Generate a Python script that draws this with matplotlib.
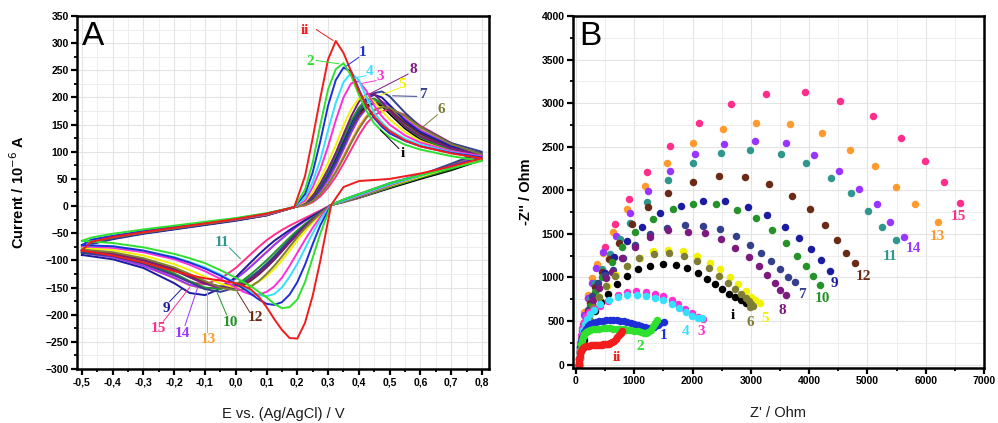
import matplotlib
matplotlib.use("Agg")
import matplotlib.pyplot as plt
from matplotlib.ticker import MultipleLocator

# ---------------- Panel A data (cyclic voltammograms) ----------------
E_fwd = [-0.5, -0.47, -0.4, -0.3, -0.2, -0.1, 0.0, 0.1, 0.19, 0.225, 0.25, 0.275, 0.3,
         0.325, 0.35, 0.375, 0.4, 0.425, 0.45, 0.475, 0.5, 0.55, 0.6, 0.7, 0.8]
E_rev = [0.8, 0.7, 0.6, 0.5, 0.4, 0.35, 0.31, 0.275, 0.25, 0.225, 0.2, 0.175, 0.15, 0.125,
         0.1, 0.075, 0.05, 0.025, 0.0, -0.05, -0.1, -0.15, -0.2, -0.3, -0.4, -0.5]

cv_fwd_ii = [-82, -66, -57, -48, -40, -32, -24, -14, -2, 55, 125, 200, 270, 304, 282, 248, 212, 185, 165, 150, 138, 121, 110, 97, 88]
cv_fwd_2 = [-64, -58, -51, -43, -36, -29, -22, -13, -2, 30, 80, 150, 215, 252, 263, 240, 205, 175, 152, 138, 127, 113, 104, 92, 83]
cv_fwd_1 = [-72, -62, -55, -46, -38, -31, -23, -14, -2, 22, 62, 120, 185, 232, 255, 248, 215, 185, 162, 146, 134, 120, 110, 98, 90]
cv_fwd_4 = [-72, -62, -55, -46, -38, -31, -23, -14, -2, 15, 45, 85, 140, 190, 228, 245, 232, 200, 172, 154, 140, 124, 113, 99, 90]
cv_fwd_3 = [-74, -63, -56, -47, -39, -31, -24, -15, -2, 10, 35, 68, 110, 158, 200, 226, 230, 212, 185, 165, 150, 130, 117, 101, 92]
cv_fwd_5 = [-77, -64, -56, -47, -39, -32, -24, -15, -2, 8, 25, 50, 80, 112, 148, 178, 198, 203, 192, 175, 160, 136, 120, 100, 88]
cv_fwd_8 = [-82, -66, -58, -49, -41, -33, -25, -16, -2, 6, 20, 42, 68, 98, 132, 165, 192, 206, 206, 192, 175, 147, 128, 106, 93]
cv_fwd_9 = [-90, -70, -61, -51, -43, -35, -27, -17, -2, 5, 17, 37, 60, 88, 120, 152, 180, 198, 205, 200, 186, 157, 136, 110, 97]
cv_fwd_7 = [-86, -69, -60, -50, -42, -34, -26, -17, -2, 4, 15, 32, 54, 80, 110, 142, 172, 195, 208, 211, 202, 172, 146, 116, 100]
cv_fwd_10 = [-84, -67, -58, -49, -41, -33, -25, -16, -2, 5, 18, 40, 64, 94, 126, 157, 181, 195, 198, 189, 174, 146, 126, 102, 87]
cv_fwd_11 = [-82, -66, -58, -49, -41, -33, -25, -16, -2, 5, 16, 36, 60, 88, 120, 150, 175, 190, 195, 190, 177, 150, 130, 105, 90]
cv_fwd_12 = [-81, -66, -58, -49, -41, -33, -25, -16, -2, 4, 14, 32, 55, 82, 112, 142, 167, 183, 190, 188, 178, 153, 133, 107, 92]
cv_fwd_i = [-81, -66, -58, -49, -41, -33, -25, -16, -2, 4, 15, 34, 57, 85, 115, 145, 170, 185, 190, 184, 170, 143, 123, 100, 85]
cv_fwd_14 = [-86, -68, -59, -50, -42, -34, -26, -17, -2, 3, 12, 28, 48, 74, 104, 135, 162, 180, 190, 192, 185, 160, 139, 111, 95]
cv_fwd_13 = [-86, -68, -59, -50, -42, -34, -26, -17, -2, 2, 10, 24, 42, 65, 92, 120, 146, 166, 178, 183, 182, 163, 141, 111, 93]
cv_fwd_6 = [-80, -66, -58, -49, -41, -33, -25, -16, -2, 2, 9, 22, 40, 62, 88, 116, 142, 163, 176, 182, 181, 166, 145, 114, 95]
cv_fwd_15 = [-84, -67, -59, -50, -42, -34, -26, -17, -2, 1, 7, 18, 34, 54, 78, 104, 130, 152, 167, 175, 178, 168, 148, 116, 92]

cv_rev_ii = [88, 73, 60, 50, 46, 35, 2, -100, -165, -215, -244, -243, -228, -208, -186, -167, -154, -147, -142, -137, -133, -127, -120, -104, -91, -82]
cv_rev_2 = [83, 70, 57, 42, 22, 12, 2, -50, -95, -140, -172, -186, -188, -180, -168, -158, -148, -140, -132, -118, -105, -96, -88, -76, -68, -64]
cv_rev_1 = [90, 74, 58, 42, 22, 12, 2, -35, -70, -108, -140, -163, -177, -182, -180, -172, -162, -152, -143, -128, -115, -104, -95, -82, -74, -72]
cv_rev_4 = [90, 73, 56, 40, 20, 10, 2, -25, -50, -78, -106, -130, -150, -162, -166, -164, -158, -150, -142, -126, -113, -103, -94, -82, -74, -72]
cv_rev_3 = [92, 74, 56, 39, 19, 10, 2, -20, -40, -62, -86, -110, -132, -148, -158, -163, -163, -158, -150, -134, -120, -108, -98, -85, -77, -74]
cv_rev_5 = [88, 71, 54, 37, 18, 9, 2, -16, -30, -46, -63, -82, -100, -116, -129, -139, -146, -150, -150, -143, -130, -118, -107, -91, -81, -77]
cv_rev_6 = [95, 75, 56, 38, 18, 9, 2, -14, -27, -41, -57, -75, -93, -110, -125, -138, -148, -154, -155, -150, -138, -125, -113, -96, -85, -80]
cv_rev_8 = [93, 74, 55, 37, 17, 9, 2, -13, -25, -38, -52, -67, -83, -98, -112, -124, -134, -142, -147, -150, -143, -131, -118, -100, -88, -82]
cv_rev_7 = [100, 78, 57, 38, 17, 9, 2, -13, -24, -36, -49, -63, -78, -93, -107, -120, -132, -142, -150, -158, -153, -140, -127, -106, -92, -86]
cv_rev_i = [85, 66, 50, 33, 15, 8, 2, -13, -24, -37, -50, -65, -80, -95, -108, -120, -130, -138, -144, -148, -142, -130, -117, -99, -87, -81]
cv_rev_11 = [90, 70, 53, 35, 16, 8, 2, -12, -23, -35, -48, -62, -77, -92, -106, -119, -130, -139, -145, -148, -143, -131, -118, -100, -88, -82]
cv_rev_12 = [92, 72, 54, 36, 17, 9, 2, -13, -25, -38, -52, -67, -83, -99, -113, -126, -137, -146, -151, -150, -141, -128, -116, -98, -87, -81]
cv_rev_10 = [87, 68, 52, 35, 16, 8, 2, -12, -22, -33, -45, -58, -72, -86, -100, -113, -125, -136, -144, -153, -150, -138, -124, -104, -90, -84]
cv_rev_13 = [93, 73, 54, 36, 16, 8, 2, -10, -18, -27, -37, -48, -59, -71, -84, -97, -110, -122, -132, -147, -152, -146, -133, -110, -94, -86]
cv_rev_14 = [95, 75, 56, 37, 17, 8, 2, -10, -18, -27, -37, -48, -60, -72, -85, -98, -111, -123, -134, -148, -152, -145, -132, -110, -94, -86]
cv_rev_15 = [92, 72, 53, 35, 15, 7, 2, -8, -15, -22, -29, -36, -44, -53, -63, -75, -88, -101, -114, -134, -144, -140, -128, -108, -93, -84]
cv_rev_9 = [97, 76, 57, 38, 17, 8, 2, -10, -18, -26, -35, -44, -54, -64, -76, -89, -103, -117, -131, -152, -164, -160, -142, -114, -98, -90]

# ---------------- Panel B data (Nyquist plots) ----------------
zr_ii = [45, 50, 55, 62, 72, 85, 100, 120, 145, 170, 200, 230, 260, 290, 320, 350, 380, 410, 440, 470, 500, 530, 560, 590, 620, 650, 680, 710, 740, 770, 795]
zi_ii = [0, 30, 60, 95, 130, 160, 180, 195, 205, 212, 215, 218, 220, 222, 223, 224, 225, 226, 228, 230, 232, 235, 240, 248, 260, 275, 292, 312, 335, 360, 385]
zr_2 = [50, 55, 62, 72, 85, 100, 120, 145, 175, 210, 250, 300, 350, 400, 460, 520, 580, 640, 700, 760, 820, 880, 940, 1000, 1060, 1110, 1160, 1200, 1240, 1280, 1320, 1360, 1390]
zi_2 = [0, 50, 110, 170, 230, 280, 320, 350, 372, 388, 398, 405, 410, 413, 415, 415, 414, 412, 410, 408, 405, 400, 395, 388, 380, 372, 365, 362, 375, 400, 440, 480, 515]
zr_1 = [50, 55, 63, 75, 90, 110, 135, 165, 200, 240, 290, 340, 400, 460, 520, 580, 640, 700, 760, 820, 880, 940, 1000, 1060, 1120, 1180, 1240, 1290, 1340, 1400, 1450, 1510]
zi_1 = [0, 60, 130, 200, 265, 320, 370, 410, 440, 462, 480, 492, 500, 505, 508, 509, 509, 507, 503, 498, 490, 480, 468, 455, 440, 428, 418, 415, 430, 455, 475, 492]
zr_4 = [60, 65, 72, 82, 97, 118, 148, 188, 240, 310, 420, 560, 720, 880, 1040, 1200, 1350, 1500, 1640, 1760, 1880, 1990, 2090, 2160]
zi_4 = [0, 80, 160, 240, 320, 395, 465, 525, 575, 620, 690, 745, 780, 795, 795, 785, 765, 735, 690, 645, 598, 560, 538, 530]
zr_3 = [50, 55, 62, 72, 88, 110, 140, 180, 230, 310, 411, 554, 714, 869, 1029, 1200, 1354, 1497, 1640, 1754, 1869, 1983, 2097, 2183]
zi_3 = [0, 80, 165, 250, 335, 415, 490, 555, 605, 640, 670, 730, 796, 827, 842, 834, 815, 789, 739, 693, 636, 586, 547, 528]
zr_i = [55, 70, 95, 135, 185, 250, 330, 429, 554, 697, 869, 1069, 1269, 1486, 1714, 1909, 2097, 2240, 2394, 2514, 2623, 2737, 2840, 2926]
zi_i = [0, 80, 170, 280, 390, 500, 610, 720, 815, 923, 1015, 1091, 1133, 1152, 1141, 1110, 1053, 976, 919, 865, 815, 777, 739, 708]
zr_6 = [55, 75, 110, 160, 220, 300, 400, 520, 669, 869, 1086, 1343, 1594, 1851, 2080, 2286, 2457, 2611, 2737, 2840, 2926, 2970, 3011, 3030, 2990]
zi_6 = [0, 130, 260, 400, 530, 660, 780, 900, 1018, 1129, 1225, 1267, 1275, 1244, 1191, 1110, 1018, 930, 861, 808, 758, 725, 700, 675, 662]
zr_5 = [65, 95, 145, 210, 295, 400, 530, 690, 880, 1097, 1326, 1583, 1840, 2069, 2297, 2469, 2640, 2783, 2909, 3011, 3080, 3154]
zi_5 = [0, 190, 340, 490, 630, 770, 900, 1025, 1135, 1225, 1305, 1313, 1302, 1244, 1168, 1091, 1007, 919, 842, 777, 739, 708]
zr_8 = [55, 75, 105, 150, 210, 290, 400, 520, 611, 783, 1011, 1269, 1583, 1926, 2211, 2486, 2737, 2966, 3137, 3286, 3411, 3509, 3600]
zi_8 = [0, 140, 290, 440, 590, 740, 880, 990, 1064, 1217, 1344, 1459, 1543, 1524, 1505, 1436, 1332, 1237, 1129, 1026, 938, 854, 796]
zr_7 = [55, 72, 100, 140, 200, 280, 380, 500, 640, 811, 1011, 1269, 1554, 1869, 2183, 2480, 2743, 2983, 3183, 3354, 3509, 3640, 3754]
zi_7 = [0, 150, 310, 470, 630, 790, 940, 1030, 1083, 1217, 1371, 1497, 1562, 1600, 1593, 1551, 1474, 1371, 1275, 1187, 1091, 1007, 949]
zr_9 = [60, 90, 135, 200, 280, 380, 497, 657, 869, 1126, 1440, 1811, 2183, 2554, 2954, 3280, 3583, 3829, 4040, 4211, 4354]
zi_9 = [20, 170, 340, 520, 700, 880, 1053, 1237, 1417, 1581, 1742, 1822, 1872, 1876, 1811, 1715, 1581, 1447, 1321, 1198, 1075]
zr_10 = [60, 85, 120, 170, 240, 330, 450, 611, 783, 1011, 1326, 1657, 2000, 2400, 2771, 3097, 3371, 3600, 3800, 3954, 4069, 4180]
zi_10 = [0, 160, 330, 500, 670, 830, 1000, 1179, 1344, 1524, 1665, 1780, 1842, 1842, 1773, 1686, 1543, 1397, 1244, 1129, 1018, 915]
zr_12 = [60, 85, 120, 170, 240, 330, 440, 560, 737, 954, 1229, 1583, 2011, 2451, 2897, 3314, 3703, 4011, 4269, 4480, 4640, 4794]
zi_12 = [0, 170, 350, 530, 710, 890, 1060, 1210, 1390, 1612, 1811, 1972, 2098, 2167, 2155, 2067, 1933, 1780, 1600, 1432, 1285, 1160]
zr_11 = [60, 85, 120, 170, 240, 330, 440, 580, 760, 926, 1217, 1575, 2000, 2486, 2994, 3514, 3954, 4371, 4726, 5011, 5257, 5486]
zi_11 = [0, 180, 370, 560, 750, 930, 1100, 1270, 1440, 1620, 1865, 2115, 2309, 2423, 2462, 2416, 2309, 2144, 1964, 1761, 1574, 1428]
zr_14 = [60, 78, 105, 145, 200, 270, 350, 460, 680, 926, 1229, 1611, 2051, 2543, 3080, 3600, 4086, 4514, 4857, 5171, 5394, 5629]
zi_14 = [0, 190, 380, 570, 760, 940, 1110, 1290, 1474, 1742, 1995, 2224, 2416, 2531, 2569, 2546, 2404, 2224, 2014, 1840, 1639, 1466]
zr_13 = [60, 78, 105, 145, 200, 270, 360, 469, 640, 869, 1183, 1554, 2011, 2526, 3097, 3669, 4217, 4697, 5137, 5486, 5811, 6206]
zi_13 = [0, 200, 400, 600, 800, 990, 1150, 1275, 1516, 1780, 2048, 2309, 2546, 2699, 2776, 2760, 2653, 2462, 2282, 2041, 1841, 1639]
zr_15 = [55, 65, 80, 114, 154, 211, 297, 366, 497, 669, 909, 1211, 1611, 2114, 2657, 3269, 3926, 4526, 5097, 5583, 5983, 6314, 6589]
zi_15 = [0, 150, 300, 470, 605, 758, 930, 1122, 1351, 1612, 1899, 2213, 2511, 2776, 2990, 3109, 3124, 3021, 2848, 2603, 2339, 2090, 1853]

series_ids = ['i', '15', '13', '14', '11', '12', '9', '10', '7', '8', '5', '6', '3', '4', '1', '2', 'ii']
colors = {'ii': '#f21c1c', '1': '#1f2fd8', '2': '#2fe02f', '3': '#ff2fd6', '4': '#35e0ff',
          '5': '#f2f200', '6': '#7d7d36', '7': '#34408c', '8': '#7d1a80', '9': '#1c1ca0',
          '10': '#25922a', '11': '#2f978c', '12': '#6a2b16', '13': '#ff9a2e', '14': '#9a35ff',
          '15': '#ff2e8c', 'i': '#000000'}

# label positions
labA_ids = ['ii', '2', '1', '4', '3', '8', '5', '7', '6', 'i', '11', '9', '15', '14', '13', '10', '12']
labA_xy = [(0.225, 323), (0.241, 266), (0.412, 282), (0.436, 247), (0.470, 238), (0.576, 251),
           (0.542, 223), (0.607, 206), (0.668, 177), (0.542, 96), (-0.045, -67), (-0.226, -188),
           (-0.251, -226), (-0.175, -234), (-0.089, -246), (-0.018, -214), (0.063, -206)]
labA_lead = [((0.262, 325), (0.316, 305)), ((0.262, 268), (0.335, 262)), ((0.40, 274), (0.36, 258)),
             ((0.424, 240), (0.385, 236)), ((0.456, 231), (0.41, 226)), ((0.56, 243), (0.44, 208)),
             ((0.53, 217), (0.47, 204)), ((0.588, 202), (0.51, 203)), ((0.655, 168), (0.6, 142)),
             ((0.53, 106), (0.47, 140)), ((-0.02, -77), (0.015, -97)), ((-0.215, -176), (-0.175, -152)),
             ((-0.235, -212), (-0.15, -150)), ((-0.165, -220), (-0.125, -152)), ((-0.094, -232), (-0.094, -157)),
             ((-0.03, -200), (-0.06, -160)), ((0.045, -195), (0.005, -158))]
labB_ids = ['15', '13', '14', '11', '12', '9', '10', '7', '8', '5', '6', 'i', '3', '4', '1', '2', 'ii']
labB_xy = [(6554, 1696), (6194, 1474), (5794, 1332), (5383, 1237), (4926, 1007), (4429, 930),
           (4229, 758), (3869, 808), (3543, 624), (3240, 528), (2983, 479), (2697, 567),
           (2143, 383), (1880, 383), (1509, 329), (1097, 203), (709, 80)]

xticksA = [-0.5, -0.4, -0.3, -0.2, -0.1, 0.0, 0.1, 0.2, 0.3, 0.4, 0.5, 0.6, 0.7, 0.8]
xticklabelsA = ['-0,5', '-0,4', '-0,3', '-0,2', '-0,1', '0,0', '0,1', '0,2', '0,3', '0,4', '0,5', '0,6', '0,7', '0,8']
yticksA = [350, 300, 250, 200, 150, 100, 50, 0, -50, -100, -150, -200, -250, -300]
xticksB = [0, 1000, 2000, 3000, 4000, 5000, 6000, 7000]
yticksB = [0, 500, 1000, 1500, 2000, 2500, 3000, 3500, 4000]

cv_fwd = {'ii': cv_fwd_ii, '1': cv_fwd_1, '2': cv_fwd_2, '3': cv_fwd_3, '4': cv_fwd_4, '5': cv_fwd_5,
          '6': cv_fwd_6, '7': cv_fwd_7, '8': cv_fwd_8, '9': cv_fwd_9, '10': cv_fwd_10, '11': cv_fwd_11,
          '12': cv_fwd_12, '13': cv_fwd_13, '14': cv_fwd_14, '15': cv_fwd_15, 'i': cv_fwd_i}
cv_rev = {'ii': cv_rev_ii, '1': cv_rev_1, '2': cv_rev_2, '3': cv_rev_3, '4': cv_rev_4, '5': cv_rev_5,
          '6': cv_rev_6, '7': cv_rev_7, '8': cv_rev_8, '9': cv_rev_9, '10': cv_rev_10, '11': cv_rev_11,
          '12': cv_rev_12, '13': cv_rev_13, '14': cv_rev_14, '15': cv_rev_15, 'i': cv_rev_i}
nyq = {'ii': (zr_ii, zi_ii), '1': (zr_1, zi_1), '2': (zr_2, zi_2), '3': (zr_3, zi_3), '4': (zr_4, zi_4),
       '5': (zr_5, zi_5), '6': (zr_6, zi_6), '7': (zr_7, zi_7), '8': (zr_8, zi_8), '9': (zr_9, zi_9),
       '10': (zr_10, zi_10), '11': (zr_11, zi_11), '12': (zr_12, zi_12), '13': (zr_13, zi_13),
       '14': (zr_14, zi_14), '15': (zr_15, zi_15), 'i': (zr_i, zi_i)}

plt.rcParams['font.family'] = ['Liberation Sans', 'DejaVu Sans']
SERIF = ['Liberation Serif', 'DejaVu Serif']

fig = plt.figure(figsize=(9.98, 4.23), dpi=100)
axA = fig.add_axes([77 / 998, 1 - 369 / 423, 412 / 998, 353 / 423])
axB = fig.add_axes([573 / 998, 1 - 368 / 423, 411 / 998, 352 / 423])


def style(ax):
    ax.set_axisbelow(True)
    ax.grid(which='major', color='#e3e3e3', lw=0.8)
    ax.grid(which='minor', color='#ededed', lw=0.7)
    for s in ax.spines.values():
        s.set_linewidth(1.8)
    ax.tick_params(which='major', direction='out', length=4, width=1.6, labelsize=7.5, pad=2)
    ax.tick_params(which='minor', direction='out', length=2.5, width=1.3)
    for lab in ax.get_xticklabels() + ax.get_yticklabels():
        lab.set_fontweight('bold')


# Panel A
for k in series_ids:
    axA.plot(E_fwd + E_rev, cv_fwd[k] + cv_rev[k], color=colors[k], lw=1.4, solid_joinstyle='round')
axA.set_xlim(-0.516, 0.823)
axA.set_ylim(-300, 350)
axA.set_xticks(xticksA)
axA.set_xticklabels(xticklabelsA)
axA.set_yticks(yticksA)
axA.xaxis.set_minor_locator(MultipleLocator(0.05))
axA.yaxis.set_minor_locator(MultipleLocator(25))
style(axA)
axA.set_xlabel('E vs. (Ag/AgCl) / V', fontsize=10.5, labelpad=14, color='#1a1a1a')
axA.set_ylabel('Current / 10$^{-6}$ A', fontsize=10.5, fontweight='bold', labelpad=13)
axA.text(0.012, 0.985, 'A', transform=axA.transAxes, fontsize=24, va='top', ha='left')
for k, (tx, ty), (p0, p1) in zip(labA_ids, labA_xy, labA_lead):
    axA.plot([p0[0], p1[0]], [p0[1], p1[1]], color=colors[k], lw=0.7)
    axA.text(tx, ty, k, color=colors[k], fontsize=11, fontweight='bold', family=SERIF,
             ha='center', va='center')

# Panel B
for k in series_ids:
    zr, zi = nyq[k]
    axB.plot(zr, zi, 'o', color=colors[k], ms=5.4, mew=0, ls='none')
axB.set_xlim(-50, 7000)
axB.set_ylim(-40, 4000)
axB.set_xticks(xticksB)
axB.set_yticks(yticksB)
axB.xaxis.set_minor_locator(MultipleLocator(500))
axB.yaxis.set_minor_locator(MultipleLocator(250))
style(axB)
axB.set_xlabel("Z' / Ohm", fontsize=10.5, labelpad=14, color='#1a1a1a')
axB.set_ylabel("-Z'' / Ohm", fontsize=10.5, fontweight='bold', labelpad=6)
axB.text(0.015, 0.985, 'B', transform=axB.transAxes, fontsize=24, va='top', ha='left')
for k, (tx, ty) in zip(labB_ids, labB_xy):
    axB.text(tx, ty, k, color=colors[k], fontsize=11, fontweight='bold', family=SERIF,
             ha='center', va='center')

fig.savefig('out.png', dpi=100)
